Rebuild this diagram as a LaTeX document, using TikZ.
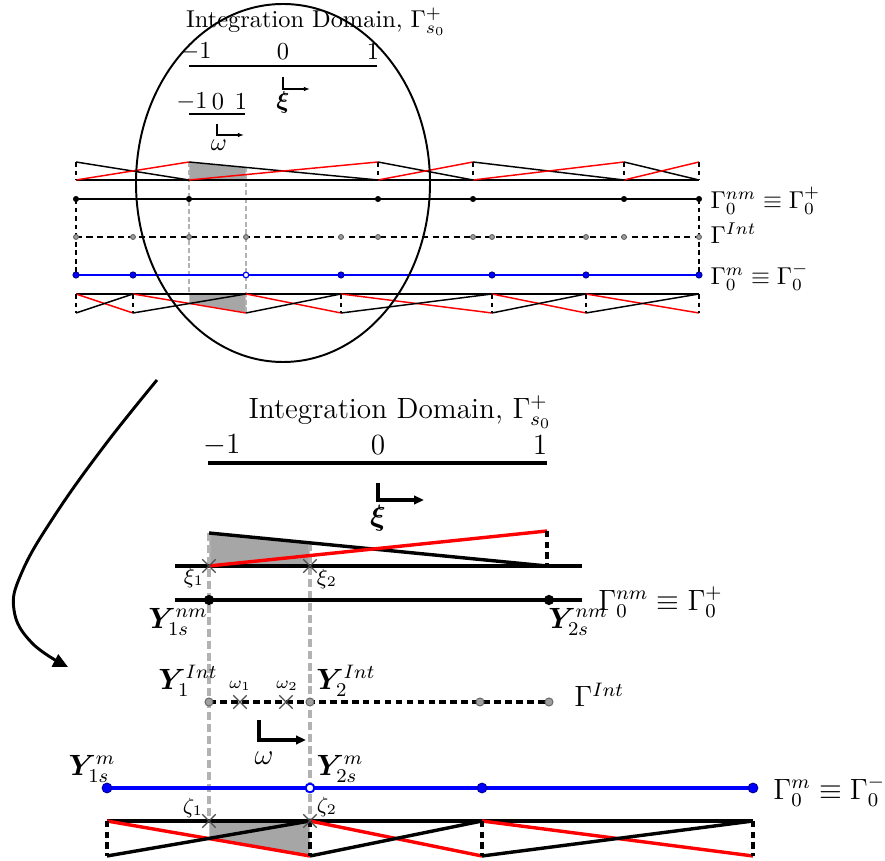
\documentclass[tikz,border=0pt]{standalone}
\usepackage{amsmath,amssymb,bm}
\usetikzlibrary{arrows.meta, shapes.misc}

\tikzset{
  nmdot/.style={circle, fill=black, inner sep=0pt, minimum size=#1},
  intdot/.style={circle, fill=gray!75, draw=black!60, line width=0.4pt, inner sep=0pt, minimum size=#1},
  mdot/.style={circle, fill=blue, draw=blue!60!black, line width=0.4pt, inner sep=0pt, minimum size=#1},
  mring/.style={circle, fill=white, draw=blue, line width=0.8pt, inner sep=0pt, minimum size=#1},
  gpmark/.style={cross out, draw=black!70, line width=0.5pt, inner sep=0pt, minimum size=5pt},
  projline/.style={gray!60, dash pattern=on 3.3pt off 1.6pt},
  segshade/.style={fill=gray!70, draw=white, line width=0.4pt},
  bigline/.style={line width=1.4pt},
}

\begin{document}
\begin{tikzpicture}[x=0.41pt, y=-0.41pt]
    \useasboundingbox (0,0) rectangle (885,861);

    %% ---------------- overview (top) ----------------
    % shaded segment on both surfaces
    \filldraw[segshade] (189,180) -- (189,162) -- (246,167.4) -- (246,180) -- cycle;
    \filldraw[segshade] (189,294) -- (246,294) -- (246,313) -- (189,303.4) -- cycle;

    % projection lines
    \draw[projline, semithick, dash pattern=on 2pt off 1.2pt] (189,162) -- (189,294);
    \draw[projline, semithick, dash pattern=on 2pt off 1.2pt] (246,167) -- (246,313);

    % non-mortar side elements
    \draw[semithick] (76,180) -- (699,180);
    \foreach \a/\b in {76/189,189/378,378/473,473/624,624/699} {
        \draw[semithick] (\a,162) -- (\b,180);
        \draw[semithick, red] (\a,180) -- (\b,162);
    }
    \foreach \x in {76,378,473,624,699}
        \draw[semithick, dash pattern=on 2pt off 1.5pt] (\x,162) -- (\x,180);

    % mortar side elements
    \draw[semithick] (76,294) -- (699,294);
    \foreach \a/\b in {76/133,133/246,246/341,341/492,492/586,586/699} {
        \draw[semithick, red] (\a,294) -- (\b,313);
        \draw[semithick] (\a,313) -- (\b,294);
    }
    \foreach \x in {76,133,341,492,586,699}
        \draw[semithick, dash pattern=on 2pt off 1.5pt] (\x,294) -- (\x,313);

    % surfaces
    \draw[thick] (76,199) -- (699,199);
    \draw[thick, dash pattern=on 2.5pt off 1.8pt] (76,237) -- (699,237);
    \draw[thick, blue] (76,275) -- (699,275);
    \draw[thick, dash pattern=on 2pt off 1.5pt] (76,199) -- (76,275);
    \draw[thick, dash pattern=on 2pt off 1.5pt] (699,199) -- (699,275);

    \foreach \x [count=\i] in {76,189,378,473,624,699}
        \node[nmdot=2.5pt] (tnm\i) at (\x,199) {};
    \foreach \x [count=\i] in {76,133,189,246,341,378,473,492,586,624,699}
        \node[intdot=2pt] (tint\i) at (\x,237) {};
    \foreach \x [count=\i] in {76,133,341,492,586,699}
        \node[mdot=2.5pt] (tm\i) at (\x,275) {};
    \node[mring=2.3pt, line width=0.5pt] (tmring) at (246,275) {};

    \node[anchor=west] (tlabnm) at (702,201) {$\Gamma_0^{nm}\equiv\Gamma_0^{+}$};
    \node[anchor=west] (tlabint) at (702,233) {$\Gamma^{Int}$};
    \node[anchor=west] (tlabm) at (702,277) {$\Gamma_0^{m}\equiv\Gamma_0^{-}$};

    % integration domain (small)
    \node (ttitle) at (316,22) {Integration Domain, $\Gamma_{s_0}^{+}$};
    \draw[semithick] (189,66) -- (377,66);
    \node (tm1) at (196,52) {$-1$};
    \node (tz1) at (283,52) {$0$};
    \node (tp1) at (373,52) {$1$};
    \draw[semithick, -{Latex[length=2.5pt]}] (283,77) -- (283,89) -- (310,89);
    \node (txi) at (283,102) {$\bm{\xi}$};

    \draw[semithick] (189,114) -- (245,114);
    \node (tm2) at (192,102) {$-1$};
    \node (tz2) at (218,102) {$0$};
    \node (tp2) at (241,102) {$1$};
    \draw[semithick, -{Latex[length=2.5pt]}] (217,124) -- (217,135) -- (244,135);
    \node (tom) at (219,145) {$\omega$};

    % zoom ellipse
    \draw[thick] (283,183) ellipse [x radius=147, y radius=179];

    % zoom arrow
    \draw[very thick, -{Triangle[length=6pt,width=5.5pt]}] plot[smooth, tension=0.7]
        coordinates {(157,380) (105,445) (55,515) (22,572) (14,610) (32,643) (68,667)};

    %% ---------------- zoomed view (bottom) ----------------
    \node[font=\large] (btitle) at (400,412) {Integration Domain, $\Gamma_{s_0}^{+}$};
    \draw[bigline] (208,463) -- (547,463);
    \node[font=\large] (bm1) at (222,445) {$-1$};
    \node[font=\large] (bz1) at (378,445) {$0$};
    \node[font=\large] (bp1) at (540,445) {$1$};
    \draw[bigline, -{Triangle[length=4pt,width=3.4pt]}] (378,483) -- (378,500) -- (424,500);
    \node[font=\large] (bxi) at (378,518) {$\bm{\xi}$};

    % shaded segments
    \filldraw[segshade] (209,566) -- (209,533) -- (310,542.9) -- (310,566) -- cycle;
    \filldraw[segshade] (209,821) -- (310,821) -- (310,856) -- (209,838.6) -- cycle;

    % projection lines
    \draw[projline, bigline] (209,533) -- (209,821);
    \draw[projline, bigline] (310,543) -- (310,821);

    % non-mortar element
    \draw[bigline] (175,566) -- (582,566);
    \draw[bigline] (209,533) -- (547,566);
    \draw[bigline, red] (209,566) -- (547,531);
    \draw[bigline, dash pattern=on 2.6pt off 1.8pt] (547,531) -- (547,566);

    % mortar elements
    \draw[bigline] (107,821) -- (753,821);
    \foreach \a/\b in {107/310,310/482,482/753} {
        \draw[bigline, red] (\a,821) -- (\b,856);
        \draw[bigline] (\a,856) -- (\b,821);
    }
    \foreach \x in {107,310,482,753}
        \draw[bigline, dash pattern=on 2.6pt off 1.8pt] (\x,821) -- (\x,856);

    % surfaces
    \draw[bigline] (175,600) -- (582,600);
    \draw[bigline, dash pattern=on 2.8pt off 1.7pt] (209,702) -- (549,702);
    \draw[line width=1.6pt, blue] (107,788) -- (753,788);

    \node[nmdot=4.2pt] (Ynm1) at (209,600) {};
    \node[nmdot=4.2pt] (Ynm2) at (549,600) {};
    \node[intdot=3.3pt] (Yint1) at (209,702) {};
    \node[intdot=3.3pt] (Yint2) at (310,702) {};
    \node[intdot=3.3pt] (Yint3) at (480,702) {};
    \node[intdot=3.3pt] (Yint4) at (549,702) {};
    \node[mdot=4pt] (Ym1) at (107,788) {};
    \node[mring=3.6pt] (Ym2) at (310,788) {};
    \node[mdot=4pt] (Ym3) at (482,788) {};
    \node[mdot=4pt] (Ym4) at (753,788) {};

    % integration points
    \node[gpmark] (xi1) at (209,566) {};
    \node[gpmark] (xi2) at (310,566) {};
    \node[gpmark] (om1) at (240,702) {};
    \node[gpmark] (om2) at (286,702) {};
    \node[gpmark] (ze1) at (209,821) {};
    \node[gpmark] (ze2) at (310,821) {};
    \node[font=\small] (labxi1) at (194,578) {$\xi_1$};
    \node[font=\small] (labxi2) at (327,579) {$\xi_2$};
    \node[font=\scriptsize] (labom1) at (240,686) {$\omega_1$};
    \node[font=\scriptsize] (labom2) at (287,686) {$\omega_2$};
    \node[font=\small] (labze1) at (193,808) {$\zeta_1$};
    \node[font=\small] (labze2) at (327,807) {$\zeta_2$};

    % node labels
    \node[font=\large] (labYnm1) at (178,622) {$\bm{Y}_{1s}^{nm}$};
    \node[font=\large] (labYnm2) at (578,622) {$\bm{Y}_{2s}^{nm}$};
    \node[font=\large] (labYint1) at (188,681) {$\bm{Y}_{1}^{Int}$};
    \node[font=\large] (labYint2) at (346,681) {$\bm{Y}_{2}^{Int}$};
    \node[font=\large] (labYm1) at (92,769) {$\bm{Y}_{1s}^{m}$};
    \node[font=\large] (labYm2) at (340,769) {$\bm{Y}_{2s}^{m}$};
    \node[font=\large, anchor=west, inner sep=0pt] (blabnm) at (598,602) {$\Gamma_0^{nm}\equiv\Gamma_0^{+}$};
    \node[font=\large, anchor=west, inner sep=0pt] (blabint) at (574,695) {$\Gamma^{Int}$};
    \node[font=\large, anchor=west, inner sep=0pt] (blabm) at (773,791) {$\Gamma_0^{m}\equiv\Gamma_0^{-}$};

    % local axis
    \draw[bigline, -{Triangle[length=4pt,width=3.4pt]}] (259,720) -- (259,740) -- (306,740);
    \node[font=\large] (bom) at (264,758) {$\omega$};
\end{tikzpicture}
\end{document}
